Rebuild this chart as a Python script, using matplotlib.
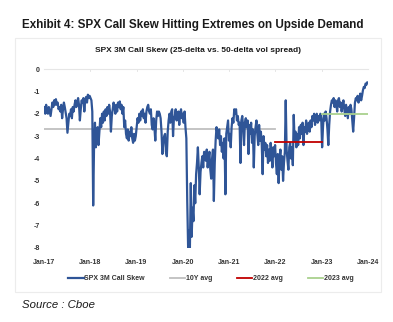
import matplotlib
matplotlib.use("Agg")
import matplotlib.pyplot as plt
import matplotlib.dates as mdates
import numpy as np
import pandas as pd

# weekly readings of SPX 3M call skew (25d - 50d vol spread)
skew_2017 = [-1.7, -2.0, -1.6, -1.9, -2.0, -1.7, -1.9, -2.1, -1.8, -1.5, -1.7, -1.4, -1.6,
             -1.35, -1.6, -1.5, -1.8, -1.7, -1.9, -1.6, -2.2, -1.8, -1.5, -1.7, -1.95,
             -2.2, -2.85, -2.4, -2.0, -2.1, -1.8, -2.2, -1.7, -1.9, -1.6, -1.4, -1.7, -1.5,
             -1.3, -1.6, -2.3, -1.8, -1.4, -1.5, -1.3, -1.9, -1.4, -1.25, -1.5, -1.15, -1.3, -1.2]
skew_2018 = [-1.3, -1.4, -1.9, -6.1, -3.4, -2.4, -3.5, -3.0, -2.6, -3.4, -2.8, -2.2, -2.6,
             -2.0, -2.4, -1.9, -2.3, -1.8, -2.1, -1.7, -2.0, -1.6, -1.9, -2.8, -2.1,
             -1.8, -1.5, -1.7, -2.0, -1.6, -1.9, -1.5, -1.7, -1.45, -1.8, -1.6, -2.0, -1.7,
             -2.6, -2.3, -2.9, -3.1, -2.7, -3.2, -2.8, -3.0, -2.6, -3.1, -3.3, -2.9, -3.2, -3.0]
skew_2019 = [-2.6, -2.2, -2.4, -2.0, -2.3, -1.9, -2.1, -1.8, -2.2, -2.0, -2.4, -1.9, -1.7,
             -1.6, -1.9, -2.0, -1.8, -2.5, -2.7, -2.2, -2.6, -3.2, -2.3, -1.9, -2.1,
             -1.9, -2.0, -2.2, -2.8, -3.8, -3.3, -3.0, -2.9, -3.7, -3.9, -2.8, -2.3, -2.0,
             -2.4, -1.9, -1.8, -3.0, -2.2, -2.1, -1.8, -2.3, -2.0, -1.9, -2.5, -2.0, -1.8, -2.2]
skew_2020 = [-2.0, -2.4, -1.9, -2.6, -3.1, -5.9, -8.0, -7.2, -8.0, -5.1, -7.5, -6.2, -6.8,
             -5.2, -6.0, -4.7, -4.2, -3.5, -4.4, -5.6, -4.6, -4.2, -3.9, -4.4, -3.7,
             -3.8, -4.1, -3.6, -4.4, -4.0, -3.7, -4.5, -4.9, -4.0, -3.6, -5.9, -4.2, -3.2,
             -2.6, -2.9, -3.1, -2.7, -3.4, -3.0, -3.7, -3.3, -4.0, -3.1, -5.6, -2.9, -2.6, -2.3]
skew_2021 = [-3.2, -2.9, -3.5, -2.6, -2.2, -2.4, -1.8, -2.0, -1.8, -2.3, -2.1, -2.5, -2.4,
             -4.2, -2.3, -2.1, -2.6, -3.4, -2.4, -2.2, -2.6, -2.3, -3.8, -2.5, -2.9,
             -2.4, -3.3, -2.7, -4.4, -3.0, -2.6, -2.3, -2.9, -3.4, -2.5, -3.2, -2.8, -3.4,
             -4.7, -3.0, -3.6, -3.3, -3.9, -3.4, -4.2, -3.6, -4.1, -3.3, -3.8, -4.4, -3.5, -3.9]
skew_2022 = [-3.4, -4.2, -4.7, -3.8, -5.1, -4.0, -3.6, -4.5, -3.9, -5.0, -4.2, -3.7, -1.4,
             -3.6, -4.1, -4.5, -3.5, -3.3, -4.0, -3.5, -4.3, -2.05, -3.2, -2.8, -3.5,
             -2.9, -3.4, -2.6, -3.1, -2.5, -2.9, -2.4, -3.4, -2.6, -2.8, -2.3, -2.9, -2.5,
             -2.4, -2.8, -2.3, -2.6, -2.1, -2.3, -2.0, -2.5, -2.2, -2.0, -2.4, -2.1, -2.3, -2.0]
skew_2023 = [-2.2, -3.5, -2.6, -2.0, -2.3, -1.9, -2.2, -2.7, -3.4, -2.5, -1.9, -1.6, -1.4,
             -1.5, -1.3, -1.7, -1.4, -1.6, -1.9, -1.4, -1.3, -1.7, -1.5, -1.9, -1.6,
             -1.4, -1.8, -2.1, -1.6, -1.9, -2.2, -1.7, -2.0, -1.6, -1.8, -2.3, -2.8, -2.2,
             -1.5, -1.3, -1.4, -1.2, -1.5, -1.3, -1.1, -1.4, -1.2, -0.95, -0.8, -0.85, -0.65,
             -0.7, -0.6]

avg_10y = -2.7
avg_2022 = -3.26
avg_2023 = -2.0

skew = skew_2017 + skew_2018 + skew_2019 + skew_2020 + skew_2021 + skew_2022 + skew_2023
dates = pd.date_range("2017-01-04", periods=len(skew), freq="7D")

fig = plt.figure(figsize=(3.93, 3.22), dpi=100)
plt.rcParams['font.family'] = ['Liberation Sans', 'DejaVu Sans']

# faint panel border behind the chart
panel = plt.Rectangle((15 / 393, 1 - 292 / 322), 366 / 393, 254 / 322, transform=fig.transFigure,
                      facecolor='none', edgecolor='#ececec', linewidth=0.8, zorder=-5)
fig.patches.append(panel)

ax = fig.add_axes([44 / 393, 1 - 248 / 322, 324 / 393, 179 / 322])
ax.patch.set_alpha(0)

ax.plot(dates, skew, color='#2F5597', linewidth=1.6, label='SPX 3M Call Skew', zorder=3)
ax.plot([pd.Timestamp("2017-01-01"), pd.Timestamp("2021-12-31")], [avg_10y, avg_10y],
        color='#BFBFBF', linewidth=1.3, label='10Y avg', zorder=2)
ax.plot([pd.Timestamp("2022-01-01"), pd.Timestamp("2022-12-31")], [avg_2022, avg_2022],
        color='#C00000', linewidth=1.3, label='2022 avg', zorder=4)
ax.plot([pd.Timestamp("2023-01-01"), pd.Timestamp("2023-12-31")], [avg_2023, avg_2023],
        color='#A9D18E', linewidth=1.3, label='2023 avg', zorder=4)

ax.set_xlim(pd.Timestamp("2017-01-01"), pd.Timestamp("2024-01-01"))
ax.set_ylim(-8, 0)
ax.set_yticks(np.arange(-8, 1, 1))
ax.set_yticklabels([str(v) for v in range(-8, 1)])
ax.xaxis.set_major_locator(mdates.YearLocator())
ax.xaxis.set_major_formatter(mdates.DateFormatter('%b-%y'))
ax.tick_params(axis='both', labelsize=5, length=0, pad=3)
ax.tick_params(axis='x', pad=8)
for lab in ax.get_xticklabels() + ax.get_yticklabels():
    lab.set_fontweight('bold')
    lab.set_color('#333333')

for s in ['left', 'right', 'bottom']:
    ax.spines[s].set_visible(False)
ax.spines['top'].set_color('#e6e6e6')
ax.spines['top'].set_linewidth(0.8)
# small year ticks on the zero line
for yr in range(2018, 2024):
    ax.plot([pd.Timestamp(f"{yr}-01-01")] * 2, [0, -0.08], color='#e0e0e0', linewidth=0.6,
            clip_on=False)

fig.text(22 / 393, 1 - 25 / 322, 'Exhibit 4: SPX Call Skew Hitting Extremes on Upside Demand',
         fontsize=8.4, fontweight='bold', va='center', ha='left', color='#1a1a1a')
fig.text(198 / 393, 1 - 51 / 322, 'SPX 3M Call Skew (25-delta vs. 50-delta vol spread)',
         fontsize=6.0, fontweight='bold', va='center', ha='center', color='#1a1a1a')
fig.text(22 / 393, 1 - 305 / 322, 'Source : Cboe', fontsize=8.2, style='italic',
         va='center', ha='left', color='#1a1a1a')

leg = fig.legend(loc='center', bbox_to_anchor=(211 / 393, 1 - 279 / 322), ncol=4, frameon=False,
                 fontsize=5, handlelength=2.2, handletextpad=0.1, columnspacing=3.6)
for t in leg.get_texts():
    t.set_fontweight('bold')
    t.set_color('#333333')

fig.savefig('out.png', dpi=100)
